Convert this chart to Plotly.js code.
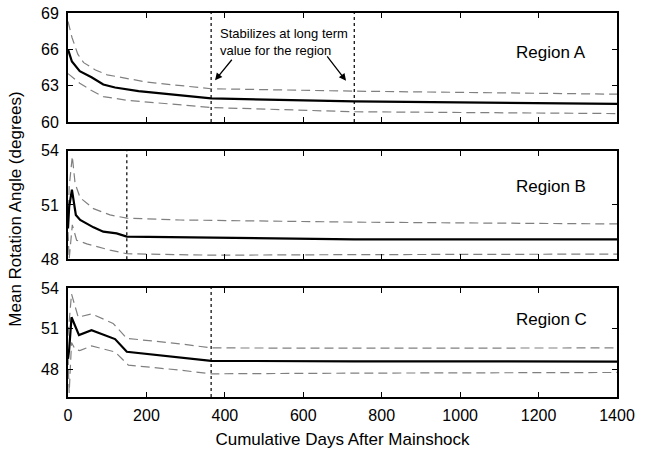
<!DOCTYPE html>
<html>
<head>
<meta charset="utf-8">
<script src="https://cdn.plot.ly/plotly-3.0.1.min.js"></script>
<style>html,body{margin:0;padding:0;background:#fff;}#chart{width:646px;height:449px;}</style>
</head>
<body>
<div id="chart"></div>
<script>
// Region A
const daysA      = [0, 10, 30, 60, 90, 120, 180, 270, 365, 730, 1000, 1400];
const meanA      = [66.0, 65.0, 64.2, 63.7, 63.1, 62.85, 62.55, 62.25, 61.95, 61.7, 61.6, 61.5];
const daysAUp    = [0, 10, 25, 40, 70, 100, 200, 365, 730, 1400];
const upperA     = [68.3, 67.0, 65.6, 64.9, 64.3, 63.9, 63.3, 62.75, 62.55, 62.3];
const daysALo    = [0, 15, 30, 60, 90, 150, 365, 730, 1400];
const lowerA     = [64.0, 63.6, 63.2, 62.6, 62.1, 61.8, 61.2, 60.85, 60.7];

// Region B
const daysB      = [0, 3, 10, 20, 31, 65, 90, 124, 150, 365, 730, 1400];
const meanB      = [49.7, 50.9, 51.85, 50.45, 50.17, 49.76, 49.52, 49.43, 49.25, 49.2, 49.1, 49.1];
const daysBUp    = [0, 3, 11, 18, 31, 65, 107, 150, 286, 730, 1400];
const upperB     = [50.0, 52.0, 53.7, 52.2, 51.4, 50.8, 50.45, 50.27, 50.17, 50.05, 49.95];
const daysBLo    = [0, 3, 11, 22, 48, 107, 150, 365, 730, 1400];
const lowerB     = [49.5, 48.0, 49.9, 49.05, 48.85, 48.5, 48.3, 48.22, 48.25, 48.28];

// Region C
const daysC      = [0, 3, 9, 28, 60, 120, 150, 286, 365, 730, 1400];
const meanC      = [48.8, 49.5, 51.85, 50.54, 50.9, 50.25, 49.32, 48.9, 48.65, 48.62, 48.6];
const daysCUp    = [0, 3, 9, 26, 60, 115, 150, 286, 365, 730, 1400];
const upperC     = [50.5, 51.5, 53.56, 51.85, 52.1, 51.4, 50.3, 49.9, 49.6, 49.58, 49.6];
const daysCLo    = [0, 3, 9, 18, 30, 60, 120, 154, 286, 365, 730, 1400];
const lowerC     = [49.0, 46.3, 50.0, 49.5, 49.4, 49.75, 49.3, 48.34, 47.97, 47.7, 47.75, 47.8];

// Stabilization markers (days)
const stabA = [365, 730];
const stabB = [150];
const stabC = [365];

const regionLabels = ["Region A", "Region B", "Region C"];
const yTicksA = [60, 63, 66, 69];
const yTicksB = [48, 51, 54];
const yTicksC = [48, 51, 54];
const xTicks = [0, 200, 400, 600, 800, 1000, 1200, 1400];

const FONT = "Liberation Sans, Arial, Helvetica, sans-serif";
const solid = {color: "#000", width: 2.2};
const dashed = {color: "#808080", width: 1.2, dash: "9px,5px"};

function tr(x, y, xa, ya, line) {
  return {x: x, y: y, xaxis: xa, yaxis: ya, type: "scatter", mode: "lines", line: line, hoverinfo: "skip", showlegend: false, cliponaxis: true};
}

const data = [
  tr(daysAUp, upperA, "x", "y", dashed),
  tr(daysALo, lowerA, "x", "y", dashed),
  tr(daysA, meanA, "x", "y", solid),
  tr(daysBUp, upperB, "x2", "y2", dashed),
  tr(daysBLo, lowerB, "x2", "y2", dashed),
  tr(daysB, meanB, "x2", "y2", solid),
  tr(daysCUp, upperC, "x3", "y3", dashed),
  tr(daysCLo, lowerC, "x3", "y3", dashed),
  tr(daysC, meanC, "x3", "y3", solid)
];

function xax(anchor, labels) {
  return {
    anchor: anchor, range: [0, 1400], tickvals: xTicks, showticklabels: labels,
    ticks: "inside", ticklen: 5, tickwidth: 1, tickcolor: "#000",
    showline: true, linecolor: "#000", linewidth: 2, mirror: "ticks",
    showgrid: false, zeroline: false, ticklabelstandoff: 3,
    tickfont: {family: FONT, size: 16, color: "#000"}
  };
}
function yax(anchor, range, ticks, dom) {
  return {
    anchor: anchor, range: range, tickvals: ticks, domain: dom,
    ticks: "inside", ticklen: 5, tickwidth: 1, tickcolor: "#000",
    showline: true, linecolor: "#000", linewidth: 2, mirror: "ticks",
    showgrid: false, zeroline: false, ticklabelstandoff: 4,
    tickfont: {family: FONT, size: 16, color: "#000"}
  };
}

const shapes = [];
function vlines(arr, xr, yr) {
  arr.forEach(d => shapes.push({type: "line", xref: xr, yref: yr + " domain", x0: d, x1: d, y0: 0, y1: 1,
    line: {color: "#000", width: 1.2, dash: "dot"}}));
}
vlines(stabA, "x", "y");
vlines(stabB, "x2", "y2");
vlines(stabC, "x3", "y3");

const annotations = [
  {xref: "x", yref: "y", x: 1232, y: 65.7, text: regionLabels[0], showarrow: false, font: {family: FONT, size: 17, color: "#000"}},
  {xref: "x2", yref: "y2", x: 1232, y: 52.05, text: regionLabels[1], showarrow: false, font: {family: FONT, size: 17, color: "#000"}},
  {xref: "x3", yref: "y3", x: 1232, y: 51.65, text: regionLabels[2], showarrow: false, font: {family: FONT, size: 17, color: "#000"}},
  {xref: "x", yref: "y", x: 552, y: 66.6, text: "Stabilizes at long term<br>value for the region", showarrow: false, align: "left",
   font: {family: FONT, size: 13, color: "#000"}},
  {xref: "x", yref: "y", x: 375, y: 63.45, ax: 18, ay: -22, text: "", showarrow: true, arrowhead: 2, arrowsize: 1.1, arrowwidth: 1.3, arrowcolor: "#000", standoff: 0},
  {xref: "x", yref: "y", x: 709, y: 63.4, ax: -20, ay: -26, text: "", showarrow: true, arrowhead: 2, arrowsize: 1.1, arrowwidth: 1.3, arrowcolor: "#000", standoff: 0},
  {xref: "paper", yref: "paper", x: -0.095, y: 0.49, xanchor: "center", yanchor: "middle", textangle: -90,
   text: "Mean Rotation Angle (degrees)", showarrow: false, font: {family: FONT, size: 17, color: "#000"}}
];

const layout = {
  width: 646, height: 449,
  margin: {l: 68, r: 29, t: 13, b: 52},
  paper_bgcolor: "#fff", plot_bgcolor: "#fff",
  showlegend: false,
  font: {family: FONT, color: "#000"},
  xaxis: xax("y", false),
  xaxis2: xax("y2", false),
  xaxis3: Object.assign(xax("y3", true), {title: {text: "Cumulative Days After Mainshock", standoff: 10, font: {family: FONT, size: 17, color: "#000"}}}),
  yaxis: yax("x", [60, 69], yTicksA, [0.716, 1]),
  yaxis2: yax("x2", [48, 54], yTicksB, [0.359, 0.641]),
  yaxis3: yax("x3", [46, 54], yTicksC, [0, 0.284]),
  shapes: shapes,
  annotations: annotations
};

Plotly.newPlot("chart", data, layout, {staticPlot: true, displayModeBar: false});
</script>
</body>
</html>
